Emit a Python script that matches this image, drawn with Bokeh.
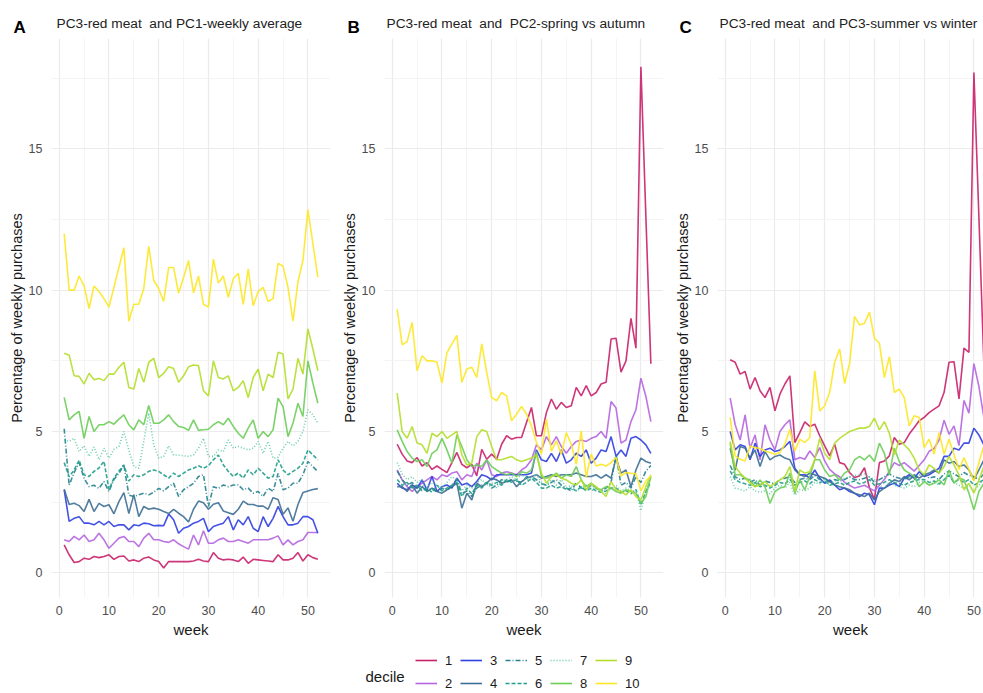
from bokeh.plotting import figure
from bokeh.models import Label, SingleIntervalTicker, Range1d, Legend, LegendItem
from bokeh.layouts import column, row
from bokeh.embed import file_html
from bokeh.resources import INLINE

weeks = list(range(1, 53))
deciles = ["1", "2", "3", "4", "5", "6", "7", "8", "9", "10"]
decile_colors = ["#C8206A", "#B565DF", "#2F3FE0", "#3E6F94", "#26828E",
                 "#1F9E89", "#5CC9A0", "#6DCD59", "#B4DE2C", "#FDE725"]
decile_dashes = ["solid", "solid", "solid", "solid", "5 2 1 2", "4 2", "1 2",
                 "solid", "solid", "solid"]
panel_letters = ["A", "B", "C"]
panel_titles = ["PC3-red meat\u00a0 and PC1-weekly average",
                "PC3-red meat\u00a0 and\u00a0 PC2-spring vs autumn",
                "PC3-red meat\u00a0 and PC3-summer vs winter"]

# ---- Panel A: PC1-weekly average ----
A_d1 = [0.99,0.64,0.37,0.40,0.52,0.48,0.58,0.54,0.58,0.64, 0.48,0.58,0.60,0.42,0.46,0.40,0.52,0.56,0.46,0.40,
        0.17,0.40,0.40,0.40,0.40,0.40,0.42,0.48,0.42,0.40, 0.72,0.52,0.46,0.48,0.46,0.40,0.56,0.34,0.48,0.46,
        0.44,0.42,0.40,0.64,0.46,0.46,0.52,0.72,0.42,0.64, 0.54,0.48]
A_d2 = [1.17,1.11,1.29,1.17,1.34,1.11,1.17,1.40,1.17,0.87, 1.05,1.23,1.29,1.11,1.11,0.93,1.23,1.40,1.17,1.17,
        1.11,1.08,1.17,1.03,0.93,0.84,1.34,0.99,1.49,1.05, 1.05,1.17,1.23,1.11,1.11,1.17,1.11,1.05,1.17,1.17,
        1.17,1.17,1.23,1.31,0.99,1.17,0.99,1.11,1.17,1.43, 1.43,1.43]
A_d3 = [2.94,1.82,1.93,1.99,1.76,1.76,1.70,1.82,1.70,1.82, 1.64,1.70,1.70,1.52,1.70,1.67,1.76,1.74,1.67,1.68,
        1.67,2.08,1.88,1.40,1.58,1.64,1.76,1.82,1.93,1.46, 1.64,1.70,1.76,1.99,1.52,1.88,1.70,1.99,1.58,1.46,
        1.99,1.64,1.93,2.35,1.99,1.70,1.70,1.76,1.99,1.99, 1.88,1.40]
A_d4 = [2.96,2.42,2.46,2.38,2.17,2.60,2.17,2.46,2.35,2.41, 2.09,2.52,2.84,2.10,2.77,1.99,2.35,2.25,2.29,2.25,
        2.17,2.10,2.25,2.11,1.99,1.80,2.25,2.54,2.48,2.25, 2.43,2.48,2.19,2.13,2.07,2.25,2.54,2.42,2.42,2.36,
        2.36,2.25,2.66,2.60,2.07,2.30,1.83,2.42,2.84,2.90, 2.95,2.98]
A_d5 = [5.10,3.10,3.55,3.90,3.35,3.05,3.10,2.99,3.23,2.88, 3.30,3.52,3.82,2.75,2.70,2.76,2.82,2.76,2.85,2.99,
        2.90,3.05,3.17,2.70,2.94,3.05,3.17,3.41,3.47,2.35, 3.05,2.99,3.11,3.05,3.11,3.11,2.94,3.00,2.82,2.88,
        2.70,3.00,2.88,3.52,2.94,3.00,3.17,3.17,3.47,3.94, 3.76,3.58]
A_d6 = [3.90,3.40,3.64,3.99,3.47,3.41,3.59,3.71,3.95,2.95, 3.35,3.60,3.82,3.25,3.47,3.41,3.47,3.59,3.64,3.59,
        3.47,3.35,3.53,3.41,3.53,3.64,3.70,3.79,3.70,3.79, 4.00,4.17,3.82,3.59,3.41,3.53,3.35,3.64,3.47,3.70,
        3.53,3.35,3.41,4.00,3.64,3.47,3.59,3.70,3.88,4.35, 4.17,4.00]
A_d7 = [4.70,4.65,4.76,4.29,4.49,4.12,4.45,4.00,4.41,4.06, 4.37,4.47,5.00,4.35,3.76,3.70,4.65,5.65,4.53,4.06,
        4.12,4.49,4.17,4.17,4.14,4.12,4.17,4.41,4.76,4.12, 4.12,4.35,4.29,4.70,4.41,4.47,4.41,4.35,4.41,4.65,
        4.23,4.65,4.06,4.09,4.41,4.65,4.49,4.65,5.00,5.77, 5.59,5.29]
A_d8 = [6.21,5.41,5.59,5.71,4.76,5.53,5.00,5.24,5.24,5.35, 5.26,5.44,5.59,5.24,5.06,5.41,5.24,5.92,5.29,5.29,
        5.41,5.59,5.35,5.18,5.14,5.04,5.41,5.04,5.06,5.08, 5.24,5.35,5.24,5.47,5.18,4.94,4.76,5.12,5.41,4.76,
        5.00,4.82,5.06,6.18,5.88,4.82,5.29,6.00,5.53,7.50, 6.71,6.00]
A_d9 = [7.77,7.70,6.97,6.95,6.68,7.06,6.83,6.88,6.80,7.03, 7.03,7.27,7.45,6.56,6.50,7.23,6.74,7.45,7.59,6.91,
        7.06,7.29,7.23,6.74,6.97,7.29,7.35,7.33,6.44,6.26, 7.50,6.91,6.86,6.97,6.44,6.56,6.80,6.20,6.91,7.21,
        6.44,7.03,6.91,7.80,7.74,6.15,6.50,7.59,7.03,8.63, 7.92,7.15]
A_d10 = [12.0,10.0,10.0,10.5,10.15,9.35,10.15,9.95,9.7,9.4, 10.1,10.8,11.5,8.9,9.5,9.5,10.05,11.55,10.35,10.05,
         9.6,10.8,10.8,9.9,10.45,11.05,9.9,10.5,9.5,9.4, 11.1,10.25,10.5,9.75,10.4,10.6,9.5,10.75,9.45,9.95,
         10.1,9.6,9.7,10.95,10.85,10.1,8.9,10.3,11.05,12.85, 11.65,10.45]

# ---- Panel B: PC2-spring vs autumn ----
B_d1 = [4.55,4.20,3.96,3.90,4.08,3.78,3.90,3.66,3.78,3.66, 3.55,3.90,4.26,3.84,3.72,3.84,3.43,4.37,4.02,4.20,
        4.02,4.55,4.85,4.73,4.79,4.79,5.32,5.85,4.85,4.85, 5.67,6.15,5.79,6.03,5.85,5.91,6.56,6.26,6.62,6.26,
        6.38,6.68,6.74,8.27,8.30,7.10,7.50,9.00,7.95,17.9, 12.6,7.40]
B_d2 = [3.64,3.29,3.05,2.88,3.05,3.17,3.29,3.41,3.29,3.47, 3.41,3.53,3.58,3.29,3.47,3.41,3.88,3.64,4.00,3.47,
        3.41,3.53,3.58,3.53,3.47,3.64,3.76,4.00,4.53,4.35, 4.82,4.53,4.82,4.47,4.23,4.47,4.65,4.70,4.65,4.76,
        4.82,5.00,4.76,6.06,5.83,4.59,4.70,5.35,5.77,6.89, 6.24,5.35]
B_d3 = [3.17,3.00,2.94,3.11,3.00,3.29,2.94,3.41,2.88,3.05, 3.11,3.00,3.35,3.11,3.17,3.05,3.23,3.47,3.41,3.29,
        3.47,3.47,3.47,3.47,3.47,3.47,3.47,3.53,4.35,4.00, 3.94,4.23,3.94,4.35,3.88,4.00,4.23,4.12,4.35,3.88,
        4.06,4.35,4.29,4.82,4.12,4.35,4.12,4.76,4.82,4.70, 4.53,4.23]
B_d4 = [3.05,3.05,2.88,3.11,2.82,3.05,2.88,3.00,2.88,2.82, 2.94,3.05,3.17,2.29,2.82,2.58,3.17,3.05,3.17,3.35,
        3.29,3.17,3.23,3.29,3.05,3.23,3.35,3.41,3.47,3.35, 3.41,3.47,3.41,3.47,3.47,3.47,3.53,3.47,3.41,3.41,
        3.47,3.35,3.47,3.35,4.06,3.53,3.64,3.05,3.64,4.06, 3.94,3.88]
B_d5 = [3.60,3.30,3.10,3.20,3.00,3.10,2.90,3.00,2.85,3.00, 2.90,3.10,3.30,2.80,2.90,2.70,3.00,3.10,3.20,3.00,
        3.10,3.30,3.20,3.30,3.25,3.20,3.40,3.40,3.30,3.15, 3.10,3.20,3.30,3.10,3.00,2.90,3.20,3.00,2.95,3.10,
        3.00,2.90,3.00,3.20,4.20,3.10,3.20,3.00,3.40,3.20, 3.60,3.80]
B_d6 = [3.30,3.10,3.20,3.00,3.10,2.90,3.00,2.85,3.10,2.90, 3.00,3.10,3.20,2.70,3.00,2.80,3.10,3.00,3.20,3.10,
        3.20,3.10,3.30,3.20,3.30,3.10,3.20,3.35,3.20,3.00, 3.00,3.10,3.00,3.05,2.95,3.00,2.90,3.05,2.90,3.00,
        2.90,2.85,2.90,3.00,3.00,2.85,2.90,2.80,2.95,2.40, 2.90,3.20]
B_d7 = [3.90,3.50,3.30,3.40,3.20,3.30,3.00,3.20,3.10,3.00, 3.20,3.40,3.30,2.90,3.10,3.00,3.20,3.30,3.10,3.20,
        3.00,3.25,3.30,3.40,3.30,3.50,3.30,3.30,3.50,3.20, 3.10,3.30,3.10,3.30,3.00,3.10,2.90,3.00,3.10,2.90,
        3.00,2.90,2.80,3.00,3.10,2.90,3.00,2.90,2.90,2.20, 2.90,3.40]
B_d8 = [5.06,4.65,4.29,4.06,3.94,4.00,3.76,4.23,4.35,4.76, 4.35,3.88,4.88,4.47,4.00,3.76,3.82,3.76,4.00,3.76,
        3.64,3.53,3.47,3.53,3.41,3.58,3.53,3.64,4.29,3.41, 3.35,3.41,3.53,3.35,3.47,3.41,3.76,3.29,3.05,3.17,
        3.00,2.94,3.05,3.00,2.88,2.82,2.94,2.88,2.82,2.46, 2.70,3.41]
B_d9 = [6.36,5.00,4.76,5.18,4.59,4.53,4.23,4.94,4.82,5.00, 4.76,4.88,5.00,4.17,3.82,3.88,4.82,5.06,5.00,4.47,
        4.00,4.00,4.06,4.12,4.00,3.94,4.00,4.06,4.17,3.53, 3.17,3.41,3.47,3.35,3.29,3.17,3.11,3.29,2.94,3.17,
        3.05,2.88,2.70,3.23,2.94,2.88,2.76,2.94,2.70,2.58, 3.05,3.47]
B_d10 = [9.33,8.07,8.18,8.86,7.15,7.68,7.50,7.50,7.45,6.71, 7.78,8.10,8.40,6.74,7.21,7.27,6.91,8.10,7.09,6.20,
         6.09,6.38,6.26,5.38,5.61,5.89,5.61,5.20,4.61,4.20, 5.44,4.31,4.67,4.20,4.96,4.55,3.84,5.02,3.37,4.20,
         3.78,3.84,3.78,3.90,4.08,3.43,3.55,3.52,3.51,2.90, 3.25,3.43]

# ---- Panel C: PC3-summer vs winter ----
C_d1 = [7.54,7.45,7.03,7.12,6.50,6.91,6.44,6.20,6.56,5.73, 6.32,6.68,6.97,4.61,4.96,5.34,5.18,5.26,4.85,4.49,
        4.14,4.55,3.90,3.84,3.55,3.37,3.43,3.72,3.01,2.60, 3.90,3.96,4.14,4.79,4.55,4.61,4.91,5.14,5.38,5.50,
        5.67,5.79,5.91,6.38,7.45,7.47,6.15,7.95,7.80,17.7, 12.6,7.40]
C_d2 = [6.18,5.24,4.70,5.59,4.41,4.88,4.00,5.24,4.70,4.35, 5.00,5.24,5.41,4.00,4.08,4.02,4.31,4.08,4.43,3.96,
        3.66,3.50,3.40,3.20,3.10,3.00,3.05,3.10,3.00,2.90, 3.10,3.30,3.60,3.90,3.80,3.90,3.75,3.60,3.80,4.00,
        4.30,4.40,4.70,5.40,4.90,5.20,4.50,6.10,5.65,7.40, 6.60,5.50]
C_d3 = [5.00,4.35,4.53,4.47,4.00,4.59,4.12,4.35,4.41,4.29, 4.35,4.47,4.65,3.70,3.47,3.47,3.35,3.64,3.35,3.17,
        3.29,3.11,2.94,3.00,2.88,2.82,2.70,2.82,2.76,2.41, 3.00,3.00,3.11,3.17,3.05,3.35,3.47,3.35,3.58,3.41,
        3.47,3.58,3.70,4.12,4.12,4.41,4.35,4.59,4.59,5.12, 4.88,4.53]
C_d4 = [4.41,3.64,4.47,4.41,4.06,4.35,3.76,4.29,4.00,4.12, 4.17,4.06,4.00,3.64,3.47,3.41,3.53,3.47,3.41,3.35,
        3.23,3.11,3.05,3.00,2.94,2.82,2.76,2.70,2.82,2.58, 2.88,3.00,3.17,3.29,3.23,3.41,3.29,3.47,3.35,3.47,
        3.53,3.64,3.53,4.00,3.88,3.94,3.76,3.82,3.64,3.29, 3.64,4.00]
C_d5 = [3.80,3.40,3.30,3.35,3.20,3.30,3.10,3.25,3.20,3.15, 3.30,3.35,3.40,3.20,3.30,3.35,3.30,3.45,3.30,3.35,
        3.20,3.30,3.25,3.30,3.40,3.30,3.30,3.35,3.40,3.20, 3.30,3.40,3.50,3.40,3.35,3.30,3.40,3.30,3.45,3.50,
        3.35,3.40,3.30,3.50,3.60,3.50,3.40,3.55,3.45,3.40, 3.30,3.50]
C_d6 = [3.60,3.30,3.20,3.15,3.10,3.20,3.05,3.10,3.00,3.10, 3.20,3.15,3.30,3.10,3.20,3.25,3.15,3.30,3.20,3.25,
        3.10,3.15,3.20,3.10,3.20,3.25,3.15,3.20,3.30,3.10, 3.15,3.20,3.30,3.20,3.15,3.10,3.20,3.25,3.30,3.30,
        3.20,3.25,3.15,3.30,3.45,3.20,3.30,3.20,3.30,3.10, 3.20,3.30]
C_d7 = [3.40,3.00,2.95,2.90,3.05,2.90,2.85,2.90,2.80,3.00, 3.10,3.00,3.20,2.75,2.95,2.90,3.00,3.20,3.15,3.30,
        3.10,3.25,3.30,3.35,3.40,3.45,3.45,3.50,3.40,3.30, 3.10,3.00,3.20,3.10,3.05,3.00,3.10,3.05,3.20,3.25,
        3.10,3.20,3.10,3.30,3.50,3.20,3.10,3.00,3.10,2.90, 3.10,3.30]
C_d8 = [4.59,3.47,3.47,3.35,3.29,3.05,3.29,3.05,2.46,2.88, 3.00,3.05,3.53,2.82,3.29,2.94,3.41,4.00,4.00,3.64,
        3.41,3.47,3.29,3.53,3.64,4.00,4.12,4.00,4.17,3.94, 4.59,4.23,3.47,4.41,3.94,3.64,3.53,3.41,3.05,3.23,
        3.11,3.17,3.29,3.11,3.64,3.17,3.35,3.29,2.82,2.23, 2.88,3.17]
C_d9 = [4.65,3.76,3.53,3.35,3.17,3.05,3.11,3.23,3.05,3.17, 3.29,3.41,3.76,2.88,3.64,3.53,3.58,4.00,4.76,4.23,
        4.00,4.59,4.76,4.88,5.00,5.06,5.12,5.12,5.18,5.47, 5.06,5.35,4.94,4.17,4.70,4.53,4.35,4.06,3.64,3.47,
        3.82,3.70,3.53,3.76,4.12,3.82,3.47,2.94,3.17,2.82, 3.29,3.76]
C_d10 = [5.50,4.14,4.02,3.96,4.49,4.43,4.40,4.31,4.26,4.20, 4.26,4.55,5.08,4.31,4.73,4.61,4.79,7.15,5.73,5.91,
         6.38,7.45,7.92,6.70,7.40,9.07,8.77,8.83,9.22,8.30, 8.12,6.91,7.65,6.38,6.50,6.20,5.20,5.56,5.50,4.43,
         4.73,4.20,4.96,4.20,4.73,4.20,3.66,4.08,3.66,3.25, 3.90,4.49]

panels_data = [
    [A_d1, A_d2, A_d3, A_d4, A_d5, A_d6, A_d7, A_d8, A_d9, A_d10],
    [B_d1, B_d2, B_d3, B_d4, B_d5, B_d6, B_d7, B_d8, B_d9, B_d10],
    [C_d1, C_d2, C_d3, C_d4, C_d5, C_d6, C_d7, C_d8, C_d9, C_d10],
]

FONT = "Liberation Sans"
TOTAL_W = 983
PX_PER_WEEK = 4.974
X0 = -1.55
Y0, Y1 = -0.87, 18.9
FRAME_H = 559
TITLE_H = 38
BOTTOM = 53
LEGEND_H = 42

# (border left, frame width)
geoms = [(51, 279), (54, 279), (54, 266)]
letter_x = [13, 347, 679]
title_x = [56, 386, 719]


def make_panel(i):
    bl, frame_w = geoms[i]
    x_end = X0 + frame_w / PX_PER_WEEK
    p = figure(frame_width=frame_w, frame_height=FRAME_H,
               x_range=Range1d(X0, x_end), y_range=Range1d(Y0, Y1),
               output_backend="svg", toolbar_location=None,
               min_border_left=bl, min_border_right=0, min_border_top=0, min_border_bottom=BOTTOM)
    p.outline_line_color = None
    p.background_fill_color = "white"
    p.border_fill_color = "white"
    p.xaxis.ticker = SingleIntervalTicker(interval=10, num_minor_ticks=2)
    p.yaxis.ticker = SingleIntervalTicker(interval=5, num_minor_ticks=2)
    for g in (p.xgrid, p.ygrid):
        g.grid_line_color = "#EBEBEB"
        g.grid_line_width = 1.2
        g.minor_grid_line_color = "#F1F1F1"
        g.minor_grid_line_width = 0.8
    for ax in (p.xaxis, p.yaxis):
        ax.axis_line_color = None
        ax.major_tick_line_color = None
        ax.minor_tick_line_color = None
        ax.major_tick_out = 0
        ax.major_tick_in = 0
        ax.major_label_text_font = FONT
        ax.major_label_text_font_size = "12.5px"
        ax.major_label_text_color = "#4D4D4D"
        ax.axis_label_text_font = FONT
        ax.axis_label_text_font_style = "normal"
        ax.axis_label_text_color = "#1A1A1A"
    p.xaxis.axis_label = "week"
    p.xaxis.axis_label_text_font_size = "15px"
    p.xaxis.major_label_standoff = 4
    p.xaxis.axis_label_standoff = 3
    p.yaxis.axis_label = "Percentage of weekly purchases"
    p.yaxis.axis_label_text_font_size = "14.5px"
    p.yaxis.major_label_standoff = 5
    p.yaxis.axis_label_standoff = 1

    for k in range(10):
        p.line(weeks, panels_data[i][k], line_color=decile_colors[k], line_width=1.6,
               line_dash=decile_dashes[k], line_alpha=0.9)
    return p


def blank_strip(h):
    s = figure(width=TOTAL_W, height=h, x_range=Range1d(0, TOTAL_W), y_range=Range1d(0, h),
               x_axis_type=None, y_axis_type=None, output_backend="svg", toolbar_location=None,
               min_border=0)
    s.outline_line_color = None
    s.xgrid.visible = False
    s.ygrid.visible = False
    return s


# title strip (pixel coordinates, y measured up from the strip bottom)
top = blank_strip(TITLE_H)
for i in range(3):
    top.add_layout(Label(x=letter_x[i], y=TITLE_H - 27, text=panel_letters[i], text_font=FONT,
                         text_font_size="17px", text_font_style="bold", text_color="black",
                         text_baseline="alphabetic"))
    top.add_layout(Label(x=title_x[i], y=TITLE_H - 22.7, text=panel_titles[i], text_font=FONT,
                         text_font_size="13.7px", text_color="#222222",
                         text_baseline="alphabetic"))

panels = [make_panel(i) for i in range(3)]

# legend strip
leg = blank_strip(LEGEND_H)
leg.x_range = Range1d(-200, -100)
items = []
for k in range(10):
    r = leg.line(weeks, panels_data[0][k], line_color=decile_colors[k], line_width=1.6,
                 line_dash=decile_dashes[k])
    items.append(LegendItem(label=deciles[k], renderers=[r]))
legend = Legend(items=items, orientation="vertical", nrows=2, location=(415, 0),
                border_line_color=None, background_fill_alpha=0,
                padding=0, margin=0, spacing=5, label_standoff=8, label_width=10,
                glyph_width=22, glyph_height=18, label_height=18,
                label_text_font=FONT, label_text_font_size="13px", label_text_color="#1A1A1A")
leg.add_layout(legend)
leg.add_layout(Label(x=-200 + 365 * 100 / TOTAL_W, y=LEGEND_H - 26, text="decile", text_font=FONT,
                     text_font_size="15px", text_color="#1A1A1A", text_baseline="middle"))

layout = column(top, row(*panels), leg, spacing=0)
open("out.html", "w").write(file_html(layout, INLINE))
